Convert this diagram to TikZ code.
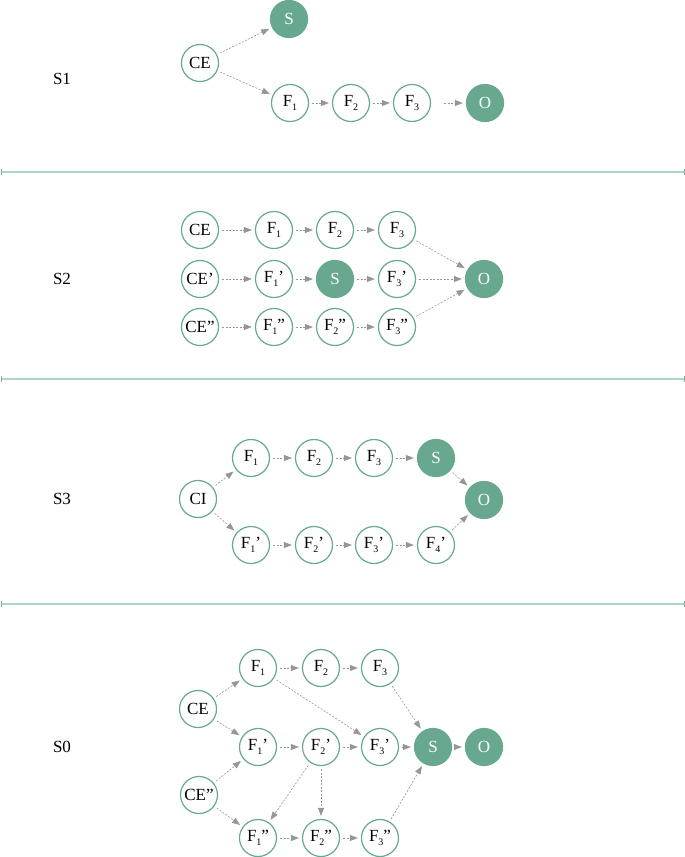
\documentclass[tikz,border=0pt]{standalone}
\usepackage{fontspec}
\setmainfont{Liberation Serif}
\usetikzlibrary{arrows.meta}
\definecolor{grn}{RGB}{104,168,143}
\definecolor{sep}{RGB}{176,212,199}
\definecolor{arr}{RGB}{150,150,150}
\newcommand\sbs[1]{\raisebox{-0.5ex}{\fontsize{10}{10}\selectfont #1}}
\tikzset{
  nd/.style={circle,draw=grn,line width=1.2pt,fill=white,minimum size=37pt,inner sep=0pt,font=\fontsize{17}{17}\selectfont},
  ndf/.style={nd,fill=grn,text=white},
  ar/.style={draw=arr,line width=0.6pt,dash pattern=on 2pt off 1.5pt,-{Triangle[length=8pt,width=6pt]},shorten >=3pt,shorten <=3pt},
  lbl/.style={font=\fontsize{17}{17}\selectfont},
  sepline/.style={draw=sep,line width=1.8pt}
}
\begin{document}
\begin{tikzpicture}[x=1pt,y=-1pt]
\useasboundingbox (0,0) rectangle (685,857);
% separators
\foreach \yy in {172,379,604}{
  \draw[sepline] (1,\yy) -- (684,\yy);
  \draw[draw=sep!80!black,line width=0.6pt] (1,\yy-3) -- (1,\yy+3);
  \draw[draw=sep!80!black,line width=0.6pt] (684,\yy-3) -- (684,\yy+3);
}
% labels
\node[lbl] (L1) at (62,79) {S1};
\node[lbl] (L2) at (62,279) {S2};
\node[lbl] (L3) at (62,499) {S3};
\node[lbl] (L0) at (62,747) {S0};
% ---------- S1
\node[nd] (a-ce) at (200,63) {CE};
\node[ndf] (a-s) at (289,19) {S};
\node[nd] (a-f1) at (290,103) {F\sbs{1}};
\node[nd] (a-f2) at (351,103) {F\sbs{2}};
\node[nd] (a-f3) at (412,103) {F\sbs{3}};
\node[ndf] (a-o) at (485,103) {O};
\draw[ar] (a-ce) -- (a-s);
\draw[ar] (a-ce) -- (a-f1);
\draw[ar] (a-f1) -- (a-f2);
\draw[ar] (a-f2) -- (a-f3);
\draw[ar,shorten <=13pt] (a-f3) -- (a-o);
% ---------- S2
\node[nd] (b-ce) at (200,230) {CE};
\node[nd] (b-f1) at (274,230) {F\sbs{1}};
\node[nd] (b-f2) at (335,230) {F\sbs{2}};
\node[nd] (b-f3) at (397,230) {F\sbs{3}};
\node[nd] (b-ce1) at (200,279) {CE’};
\node[nd] (b-f11) at (274,279) {F\sbs{1}’};
\node[ndf] (b-s) at (335,279) {S};
\node[nd] (b-f31) at (397,279) {F\sbs{3}’};
\node[nd] (b-ce2) at (200,327) {CE”};
\node[nd] (b-f12) at (274,327) {F\sbs{1}”};
\node[nd] (b-f22) at (335,327) {F\sbs{2}”};
\node[nd] (b-f32) at (397,327) {F\sbs{3}”};
\node[ndf] (b-o) at (484,279) {O};
\draw[ar] (b-ce) -- (b-f1);
\draw[ar] (b-f1) -- (b-f2);
\draw[ar] (b-f2) -- (b-f3);
\draw[ar] (b-f3) -- (b-o);
\draw[ar] (b-ce1) -- (b-f11);
\draw[ar] (b-f11) -- (b-s);
\draw[ar] (b-s) -- (b-f31);
\draw[ar] (b-f31) -- (b-o);
\draw[ar] (b-ce2) -- (b-f12);
\draw[ar] (b-f12) -- (b-f22);
\draw[ar] (b-f22) -- (b-f32);
\draw[ar] (b-f32) -- (b-o);
% ---------- S3
\node[nd] (c-ci) at (198,499) {CI};
\node[nd] (c-f1) at (251,458) {F\sbs{1}};
\node[nd] (c-f2) at (314,458) {F\sbs{2}};
\node[nd] (c-f3) at (374,458) {F\sbs{3}};
\node[ndf] (c-s) at (436,458) {S};
\node[nd] (c-g1) at (251,545) {F\sbs{1}’};
\node[nd] (c-g2) at (314,545) {F\sbs{2}’};
\node[nd] (c-g3) at (374,545) {F\sbs{3}’};
\node[nd] (c-g4) at (436,545) {F\sbs{4}’};
\node[ndf] (c-o) at (484,500) {O};
\draw[ar] (c-ci) -- (c-f1);
\draw[ar] (c-f1) -- (c-f2);
\draw[ar] (c-f2) -- (c-f3);
\draw[ar] (c-f3) -- (c-s);
\draw[ar] (c-s) -- (c-o);
\draw[ar] (c-ci) -- (c-g1);
\draw[ar] (c-g1) -- (c-g2);
\draw[ar] (c-g2) -- (c-g3);
\draw[ar] (c-g3) -- (c-g4);
\draw[ar] (c-g4) -- (c-o);
% ---------- S0
\node[nd] (d-ce) at (198,709) {CE};
\node[nd] (d-ce2) at (199,795) {CE”};
\node[nd] (d-f1) at (258,668) {F\sbs{1}};
\node[nd] (d-f2) at (321,668) {F\sbs{2}};
\node[nd] (d-f3) at (380,668) {F\sbs{3}};
\node[nd] (d-g1) at (258,747) {F\sbs{1}’};
\node[nd] (d-g2) at (321,747) {F\sbs{2}’};
\node[nd] (d-g3) at (380,747) {F\sbs{3}’};
\node[ndf] (d-s) at (433,747) {S};
\node[ndf] (d-o) at (484,747) {O};
\node[nd] (d-h1) at (258,838) {F\sbs{1}”};
\node[nd] (d-h2) at (321,838) {F\sbs{2}”};
\node[nd] (d-h3) at (380,838) {F\sbs{3}”};
\draw[ar] (d-ce) -- (d-f1);
\draw[ar] (d-ce) -- (d-g1);
\draw[ar] (d-ce2) -- (d-g1);
\draw[ar] (d-ce2) -- (d-h1);
\draw[ar] (d-f1) -- (d-f2);
\draw[ar] (d-f2) -- (d-f3);
\draw[ar] (d-f1) -- (d-g3);
\draw[ar] (d-f3) -- (d-s);
\draw[ar] (d-g1) -- (d-g2);
\draw[ar] (d-g2) -- (d-g3);
\draw[ar] (d-g3) -- (d-s);
\draw[ar] (d-s) -- (d-o);
\draw[ar] (d-g2) -- (d-h1);
\draw[ar] (d-g2) -- (d-h2);
\draw[ar] (d-h1) -- (d-h2);
\draw[ar] (d-h2) -- (d-h3);
\draw[ar] (d-h3) -- (d-s);
\end{tikzpicture}
\end{document}
